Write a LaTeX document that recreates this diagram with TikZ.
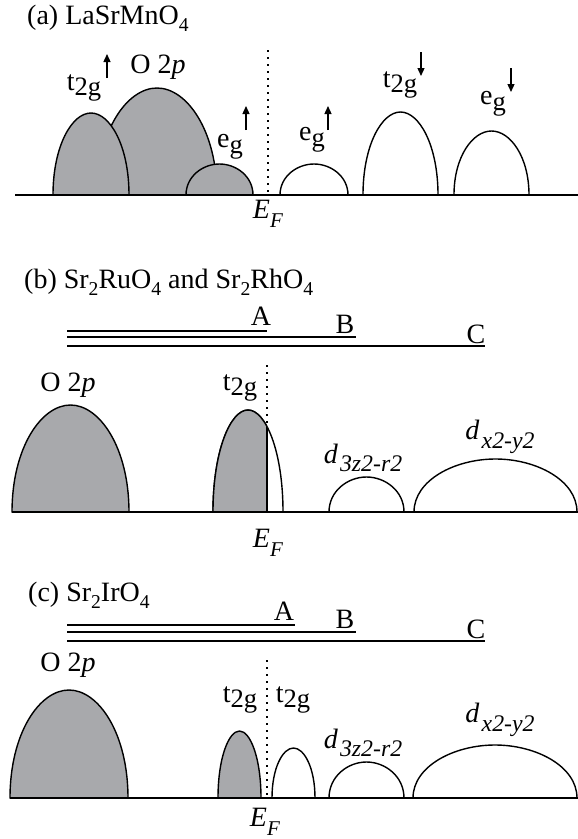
\documentclass[tikz,border=0pt]{standalone}
\usepackage{graphicx}
\usepackage{fontspec}
\setmainfont{Liberation Serif}
\definecolor{bandgray}{RGB}{168,169,172}
\usetikzlibrary{arrows.meta}

% lowered, scaled text: scale, drop, text
\newcommand{\lowsub}[3]{\raisebox{-#2}{\scalebox{#1}{#3}}}
\newcommand{\tg}{t\lowsub{0.95}{0.2em}{2g}}
\newcommand{\eg}{e\lowsub{0.95}{0.2em}{g}}
\newcommand{\EF}{\textit{E}\lowsub{0.75}{0.3em}{\textit{F}}}
\newcommand{\dorb}[1]{\textit{d}\hspace{0.08em}\lowsub{0.85}{0.3em}{\textit{#1}}}
% one band: style, left x, right x, base y, top y
\newcommand{\dosband}[5]{%
  \path[#1] (#2,#4) .. controls (#2,{#4-0.6*(#4-#5)}) and ({#2+0.25*(#3-#2)},#5) .. ({(#2+#3)/2},#5)
    .. controls ({#3-0.25*(#3-#2)},#5) and (#3,{#4-0.6*(#4-#5)}) .. (#3,#4) -- cycle;}

\begin{document}
\begin{tikzpicture}[x=1pt,y=-1pt,
  hump/.style={draw=black,line width=1.4pt,fill=white},
  filled/.style={hump,fill=bandgray},
  base/.style={line width=1.8pt},
  level/.style={line width=1.5pt},
  efline/.style={line width=2pt,dash pattern=on 2pt off 5pt},
  spin/.style={line width=1.3pt,-{Triangle[width=7pt,length=8pt]}},
  lbl/.style={font=\fontsize{28}{30}\selectfont,inner sep=0pt},
  title/.style={lbl,anchor=west}]
  \useasboundingbox (0,0) rectangle (578,839);

  % Panel (a)
  \node[title] (ta) at (27,18) {(a) LaSrMnO\lowsub{0.7}{0.25em}{4}};
  \draw[efline] (268,50) -- (268,195);
  \dosband{filled}{97}{217}{195}{88}
  \dosband{filled}{53}{129}{195}{113}
  \dosband{filled}{186}{253}{195}{164}
  \dosband{hump}{280}{348}{195}{164}
  \dosband{hump}{363}{438}{195}{112}
  \dosband{hump}{454}{529}{195}{131}
  \draw[base] (15,195) -- (578,195);
  \node[lbl] (a-t2g) at (84,88) {\tg};
  \node[lbl] (a-op) at (158,67) {O 2\textit{p}};
  \node[lbl] (a-eg) at (230,147) {\eg};
  \node[lbl] (a-egw) at (312,140) {\eg};
  \node[lbl] (a-t2gw) at (400,85) {\tg};
  \node[lbl] (a-egd) at (493,104) {\eg};
  \node[lbl] (a-ef) at (268,214) {\EF};
  \coordinate (s1) at (107,78);
  \coordinate (s2) at (246,130);
  \coordinate (s3) at (328,130);
  \coordinate (s4) at (421,52);
  \coordinate (s5) at (511,68);
  \draw[spin] (s1) -- ++(0,-24);
  \draw[spin] (s2) -- ++(0,-24);
  \draw[spin] (s3) -- ++(0,-24);
  \draw[spin] (s4) -- ++(0,24);
  \draw[spin] (s5) -- ++(0,24);

  % Panel (b)
  \node[title] (tb) at (24,282) {(b) Sr\lowsub{0.7}{0.25em}{2}RuO\lowsub{0.7}{0.25em}{4} and Sr\lowsub{0.7}{0.25em}{2}RhO\lowsub{0.7}{0.25em}{4}};
  \draw[level] (67,331) -- (267,331);
  \draw[level] (67,337) -- (356,337);
  \draw[level] (67,346) -- (485,346);
  \node[lbl] (b-A) at (261,316) {A};
  \node[lbl] (b-B) at (345,324) {B};
  \node[lbl] (b-C) at (476,334) {C};
  \draw[efline] (267,365) -- (267,470);
  \dosband{filled}{12}{129}{512}{405}
  \dosband{hump}{213}{283}{512}{410}
  \begin{scope}
    \clip (200,380) rectangle (267,512);
    \dosband{filled}{213}{283}{512}{410}
  \end{scope}
  \begin{scope}
    \dosband{clip}{213}{283}{512}{410}
    \draw[line width=1.4pt] (267,512) -- (267,400);
  \end{scope}
  \dosband{hump}{329}{404}{512}{477}
  \dosband{hump}{414}{577}{512}{459}
  \draw[base] (12,512) -- (578,512);
  \node[lbl] (b-op) at (68,385) {O 2\textit{p}};
  \node[lbl] (b-t2g) at (240,388) {\tg};
  \node[lbl] (b-d3z) at (363,458) {\dorb{3z2-r2}};
  \node[lbl] (b-dx) at (500,437) {\dorb{x2-y2}};
  \node[lbl] (b-ef) at (268,543) {\EF};

  % Panel (c)
  \node[title] (tc) at (28,595) {(c) Sr\lowsub{0.7}{0.25em}{2}IrO\lowsub{0.7}{0.25em}{4}};
  \draw[level] (67,625) -- (295,625);
  \draw[level] (67,632) -- (356,632);
  \draw[level] (67,641) -- (485,641);
  \node[lbl] (c-A) at (284,611) {A};
  \node[lbl] (c-B) at (345,619) {B};
  \node[lbl] (c-C) at (476,629) {C};
  \draw[efline] (267,660) -- (267,798);
  \dosband{filled}{10}{128}{798}{690}
  \dosband{filled}{218}{261}{798}{731}
  \dosband{hump}{272}{315}{798}{748}
  \dosband{hump}{329}{404}{798}{762}
  \dosband{hump}{413}{577}{798}{745}
  \draw[base] (10,798) -- (578,798);
  \node[lbl] (c-op) at (68,665) {O 2\textit{p}};
  \node[lbl] (c-t2g) at (240,700) {\tg};
  \node[lbl] (c-t2gw) at (293,700) {\tg};
  \node[lbl] (c-d3z) at (363,743) {\dorb{3z2-r2}};
  \node[lbl] (c-dx) at (500,720) {\dorb{x2-y2}};
  \node[lbl] (c-ef) at (265,822) {\EF};
\end{tikzpicture}
\end{document}
